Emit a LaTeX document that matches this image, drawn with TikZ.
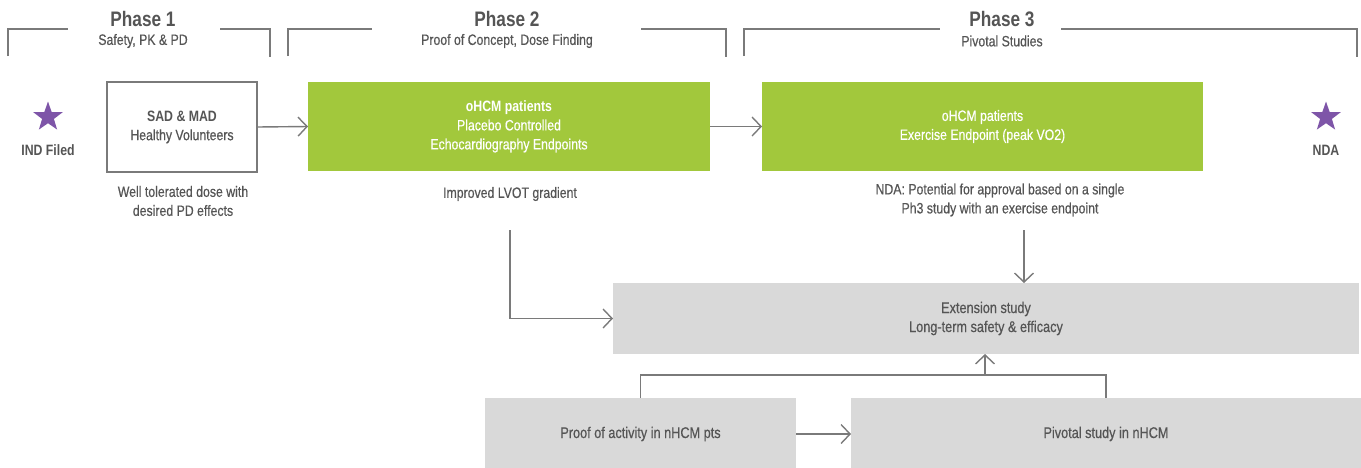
\documentclass[tikz,border=0pt]{standalone}
\usepackage{fontspec}
\setmainfont{Liberation Sans}[FakeStretch=0.82,UprightFeatures={FakeBold=0.5}]
\usetikzlibrary{shapes.geometric,arrows.meta}
\definecolor{txt}{HTML}{555555}
\definecolor{lin}{HTML}{7A7A7A}
\definecolor{grn}{HTML}{A2C83C}
\definecolor{gry}{HTML}{D9D9D9}
\definecolor{pur}{HTML}{7E55A8}
\begin{document}
\begin{tikzpicture}[x=1pt,y=-1pt,
  lbl/.style={text=txt,font=\fontsize{15}{19}\selectfont,align=center,inner sep=0pt},
  phase/.style={text=txt,font=\fontsize{21}{22}\selectfont\bfseries,inner sep=0pt},
  bracket/.style={draw=lin,line width=1.4pt},
  whitebox/.style={draw=lin,line width=1.3pt,fill=white,anchor=north west,inner sep=0pt,outer sep=0pt,text=txt,font=\fontsize{15}{19}\selectfont,align=center},
  greenbox/.style={fill=grn,anchor=north west,inner sep=0pt,outer sep=0pt,text=white,font=\fontsize{15}{19}\selectfont,align=center},
  graybox/.style={fill=gry,anchor=north west,inner sep=0pt,outer sep=0pt,text=txt,font=\fontsize{15.5}{19}\selectfont,align=center},
  starnode/.style={star,star points=5,star point ratio=2.5,fill=pur,minimum size=31pt,inner sep=0pt},
  arr/.style={draw=lin,line width=1.4pt,-{Straight Barb[length=9pt,width=19pt,line width=1.4pt]}},
  conn/.style={draw=lin,line width=1.4pt}]
\useasboundingbox (0,0) rectangle (1361,467);

% Phase brackets
\draw[bracket] (8,56) -- (8,29) -- (68,29);
\draw[bracket] (220,29) -- (270,29) -- (270,57);
\node[phase] (ph1) at (143,19) {Phase 1};
\node[lbl] (ph1s) at (143,41) {Safety, PK \& PD};

\draw[bracket] (288,56) -- (288,29) -- (372,29);
\draw[bracket] (641,29) -- (726,29) -- (726,57);
\node[phase] (ph2) at (507,19) {Phase 2};
\node[lbl] (ph2s) at (507,41) {Proof of Concept, Dose Finding};

\draw[bracket] (744,56) -- (744,29) -- (940,29);
\draw[bracket] (1061,29) -- (1357,29) -- (1357,57);
\node[phase] (ph3) at (1002,19) {Phase 3};
\node[lbl] (ph3s) at (1002,41) {Pivotal Studies};

% Stars
\node[starnode] (s1) at (48,117) {};
\node[lbl,font=\fontsize{15}{19}\selectfont\bfseries] (ind) at (48,150) {IND Filed};
\node[starnode] (s2) at (1326,117) {};
\node[lbl,font=\fontsize{15}{19}\selectfont\bfseries] (nda) at (1326,150) {NDA};

% Boxes
\node[whitebox,minimum width=150pt,minimum height=90pt] (sad) at (107,82) {\bfseries SAD \& MAD\\Healthy Volunteers};
\node[greenbox,minimum width=402pt,minimum height=89pt] (g1) at (308,82) {\bfseries oHCM patients\\Placebo Controlled\\Echocardiography Endpoints};
\node[greenbox,minimum width=441pt,minimum height=89pt] (g2) at (762,82) {oHCM patients\\Exercise Endpoint (peak VO2)};

\node[lbl] (t1) at (183,201) {Well tolerated dose with\\desired PD effects};
\node[lbl] (t2) at (510,194) {Improved LVOT gradient};
\node[lbl] (t3) at (1000,200) {NDA: Potential for approval based on a single\\Ph3 study with an exercise endpoint};

\node[graybox,minimum width=746pt,minimum height=71pt] (ext) at (613,283) {Extension study\\Long-term safety \& efficacy};
\node[graybox,minimum width=311pt,minimum height=72pt] (b1) at (485,398) {Proof of activity in nHCM pts};
\node[graybox,minimum width=510pt,minimum height=72pt] (b2) at (851,398) {Pivotal study in nHCM};

% Connectors
\draw[arr] (sad.east) -- (g1.west);
\draw[arr] (g1.east) -- (g2.west);
\coordinate (c2) at (510,230);
\draw[arr] (c2) |- (ext.west);
\coordinate (c3) at (1024,230);
\draw[arr] (c3) -- (c3 |- ext.north);
\draw[arr] (b1.east) -- (b2.west);
\coordinate (j) at (985,375);
\draw[conn] (b1.north) |- (j) -| (b2.north);
\draw[arr] (j) -- (j |- ext.south);
\end{tikzpicture}
\end{document}
